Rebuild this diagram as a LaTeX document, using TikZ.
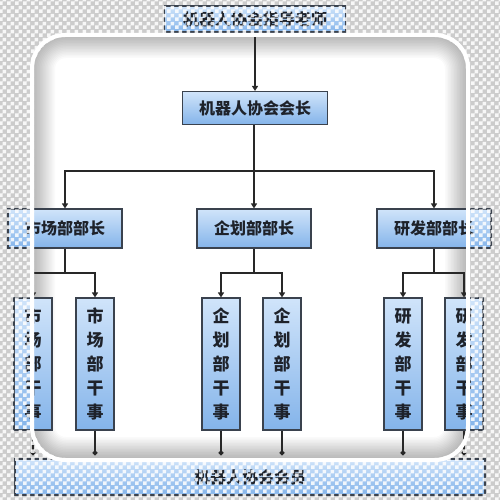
\documentclass[tikz,border=0pt]{standalone}
\usepackage{fontspec}
\newfontfamily\cjk{Noto Sans CJK SC}
\usetikzlibrary{arrows.meta,patterns}
\pgfdeclarepatternformonly{chk}{\pgfqpoint{0pt}{0pt}}{\pgfqpoint{8pt}{8pt}}{\pgfqpoint{8pt}{8pt}}{%
  \pgfpathrectangle{\pgfqpoint{0pt}{0pt}}{\pgfqpoint{4pt}{4pt}}%
  \pgfpathrectangle{\pgfqpoint{4pt}{4pt}}{\pgfqpoint{4pt}{4pt}}%
  \pgfusepath{fill}}
\definecolor{boxtop}{RGB}{208,228,250}
\definecolor{boxbot}{RGB}{132,180,234}
\definecolor{boxline}{RGB}{58,66,78}
\definecolor{txt}{RGB}{30,34,42}
\definecolor{linec}{RGB}{40,40,40}
\tikzset{
  box/.style={draw=boxline, line width=1.1pt, top color=boxtop, bottom color=boxbot,
    font=\cjk\bfseries\fontsize{16}{18}\selectfont, text=txt, inner sep=0pt,
    minimum height=39pt, minimum width=114pt},
  vbox/.style={box, minimum width=38pt, minimum height=132pt, align=center,
    font=\cjk\bfseries\fontsize{17}{24}\selectfont},
  conn/.style={draw=linec, line width=1.2pt},
  arr/.style={conn, -{Triangle[length=5pt,width=6pt]}},
  dotend/.style={conn, -{Circle[length=5pt]}, shorten >=3pt},
}
\begin{document}
\begin{tikzpicture}[x=1pt,y=-1pt]
\useasboundingbox (0,0) rectangle (500,500);
\fill[gray!40] (0,0) rectangle (500,500);
% white rounded panel with inner shadow
\fill[white, rounded corners=32] (34,37) rectangle (466,458);
\begin{scope}
  \clip[rounded corners=32] (34,37) rectangle (466,458);
  \foreach \w in {3,6,...,42}
    \draw[black, opacity=0.018, line width=\w pt, rounded corners=32] (34,37) rectangle (466,458);
\end{scope}

% nodes
\node[box, minimum width=181pt, minimum height=26pt] (top) at (255,19) {机器人协会指导老师};
\node[box, minimum width=145pt, minimum height=33pt] (pres) at (255,108) {机器人协会会长};
\node[box] (d1) at (65,228.5) {市场部部长};
\node[box] (d2) at (254,228.5) {企划部部长};
\node[box] (d3) at (434,228.5) {研发部部长};
\node[vbox] (c11) at (33,364) {市\\场\\部\\干\\事};
\node[vbox] (c12) at (95,364) {市\\场\\部\\干\\事};
\node[vbox] (c21) at (221,364) {企\\划\\部\\干\\事};
\node[vbox] (c22) at (282,364) {企\\划\\部\\干\\事};
\node[vbox] (c31) at (403,364) {研\\发\\部\\干\\事};
\node[vbox] (c32) at (464,364) {研\\发\\部\\干\\事};
\node[box, minimum width=470pt, minimum height=36pt] (mem) at (250,477) {机器人协会会员};

% connectors
\draw[arr] (top) -- (pres);
\coordinate (bus) at (254,171);
\coordinate (lvl) at (0,273);
\draw[conn] (pres.south -| bus) -- (bus);
\draw[arr] (bus) -| (d1.north);
\draw[arr] (bus) -- (d2.north);
\draw[arr] (bus) -| (d3.north);
\coordinate (b1) at (d1.south |- lvl);
\coordinate (b2) at (d2.south |- lvl);
\coordinate (b3) at (d3.south |- lvl);
\draw[conn] (d1.south) -- (b1);
\draw[conn] (d2.south) -- (b2);
\draw[conn] (d3.south) -- (b3);
\draw[arr] (b1) -| (c11.north);
\draw[arr] (b1) -| (c12.north);
\draw[arr] (b2) -| (c21.north);
\draw[arr] (b2) -| (c22.north);
\draw[arr] (b3) -| (c31.north);
\draw[arr] (b3) -| (c32.north);
\foreach \c in {c11,c12,c21,c22,c31,c32}
  \draw[dotend] (\c.south) -- (\c.south |- mem.north);

% transparency overlay outside the panel
\fill[pattern=chk, pattern color=white, fill opacity=0.85, even odd rule]
  (0,0) rectangle (500,500) [rounded corners=32] (34,37) rectangle (466,458);
\draw[white, line width=4pt, rounded corners=33] (32,35) rectangle (468,460);
\end{tikzpicture}
\end{document}
